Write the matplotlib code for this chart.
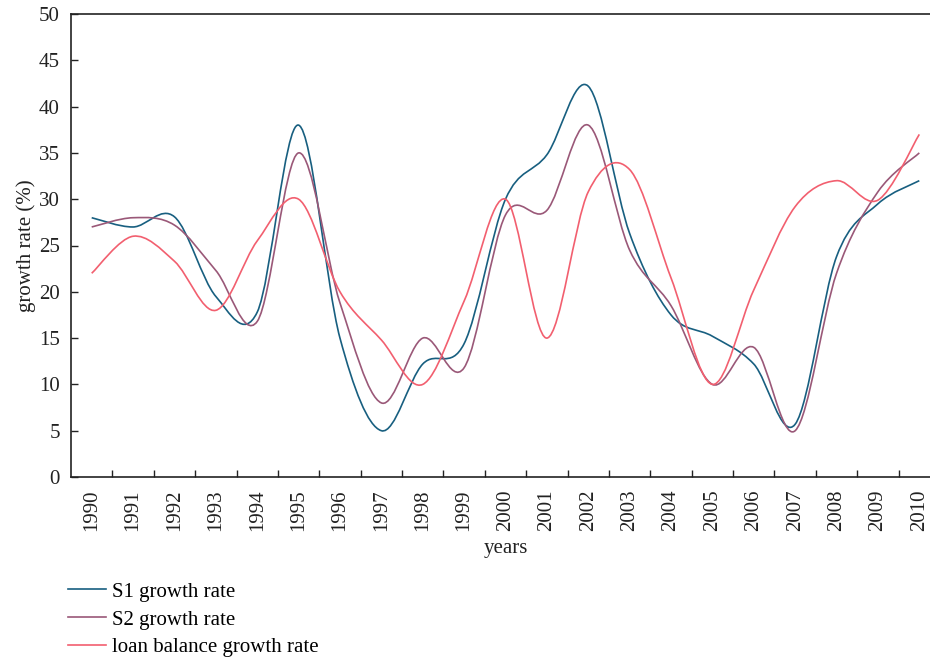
import matplotlib
matplotlib.use("Agg")
import matplotlib.pyplot as plt
from matplotlib.path import Path
from matplotlib.patches import PathPatch
from matplotlib.lines import Line2D

plt.rcParams['font.family'] = ['Liberation Serif', 'DejaVu Serif']

years = [str(y) for y in range(1990, 2011)]

s1_rate = [28.0, 27.0, 28.1, 19.5, 17.8, 38.0, 15.0, 5.0, 12.2, 14.4, 30.0,
           34.8, 42.2, 26.3, 17.5, 15.2, 12.2, 5.7, 23.8, 29.5, 32.0]
s2_rate = [27.0, 28.0, 27.2, 22.3, 16.8, 35.0, 18.8, 8.0, 15.0, 11.8, 28.3,
           28.8, 38.0, 24.5, 18.5, 10.0, 14.0, 5.0, 22.0, 30.8, 35.0]
loan_rate = [22.0, 26.0, 23.3, 18.0, 25.5, 30.0, 20.0, 14.8, 10.0, 19.0, 30.0,
             15.0, 30.8, 33.2, 21.5, 10.0, 20.2, 29.2, 32.0, 29.9, 37.0]

labels = ["S1 growth rate", "S2 growth rate", "loan balance growth rate"]
colors = ['#185f80', '#9a5878', '#f25f6f']


def smooth_path(ys, t=1/6):
    # catmull-rom style bezier through the points
    xs = list(range(len(ys)))
    n = len(ys)
    verts = [(xs[0], ys[0])]
    codes = [Path.MOVETO]
    for i in range(n - 1):
        a = i - 1 if i > 0 else i
        d = i + 2 if i + 2 < n else i + 1
        c1 = (xs[i] + (xs[i + 1] - xs[a]) * t, ys[i] + (ys[i + 1] - ys[a]) * t)
        c2 = (xs[i + 1] - (xs[d] - xs[i]) * t, ys[i + 1] - (ys[d] - ys[i]) * t)
        verts += [c1, c2, (xs[i + 1], ys[i + 1])]
        codes += [Path.CURVE4] * 3
    return Path(verts, codes)


fig = plt.figure(figsize=(9.3, 6.6), dpi=100)
ax = fig.add_axes([71 / 930, 1 - 477 / 660, 869 / 930, 463 / 660])

for series, c in zip([s1_rate, s2_rate, loan_rate], colors):
    ax.add_patch(PathPatch(smooth_path(series), fill=False, edgecolor=c, lw=1.2))

ax.set_xlim(-0.5, 20.5)
ax.set_ylim(0, 50)
ax.set_yticks(range(0, 51, 5))
ax.set_xticks(range(len(years)))
ax.set_xticklabels(years, rotation=90)
ax.set_xticks([i + 0.5 for i in range(len(years) - 1)], minor=True)
ax.tick_params(axis='x', which='major', length=0, pad=9, labelsize=15, colors='#222')
ax.tick_params(axis='x', which='minor', direction='in', length=5, width=1, color='#222')
ax.tick_params(axis='y', direction='in', length=5, width=1, labelsize=15, colors='#222', pad=8)
for lab in ax.get_xticklabels():
    lab.set_x(lab.get_position()[0])

for s in ['left', 'bottom', 'top']:
    ax.spines[s].set_color('#222')
    ax.spines[s].set_linewidth(1.2)
ax.spines['right'].set_visible(False)

ax.set_xlabel("years", fontsize=15, color='#222', labelpad=6)
ax.set_ylabel("growth rate (%)", fontsize=15, color='#222', labelpad=2)

handles = [Line2D([], [], color=c, lw=1.2) for c in colors]
fig.legend(handles, labels, loc='upper left', bbox_to_anchor=(68 / 930, 1 - 582 / 660),
           frameon=False, fontsize=15, handlelength=1.8, handletextpad=0.3,
           labelspacing=0.4, borderpad=0, borderaxespad=0)

fig.savefig("out.png", dpi=100)
